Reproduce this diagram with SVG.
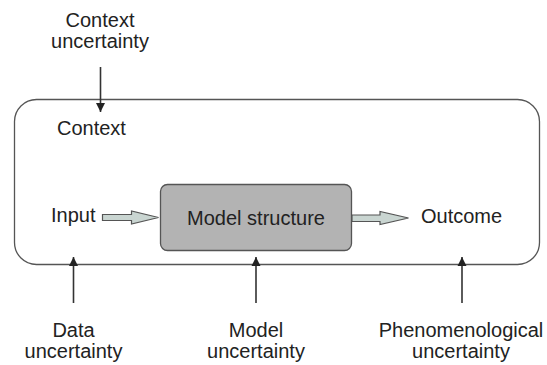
<svg xmlns="http://www.w3.org/2000/svg" width="547" height="365" viewBox="0 0 547 365">
<defs>
<style>
text{font-family:"Liberation Sans",Arial,sans-serif;font-size:20px;fill:#222}
.c{text-anchor:middle}
.ln{stroke:#333;stroke-width:1.6;fill:none}
.blk{fill:#c9d5d1;stroke:#555;stroke-width:1.2}
</style>
<marker id="ah" viewBox="0 0 10 10" refX="10" refY="5" markerWidth="9" markerHeight="10" markerUnits="userSpaceOnUse" orient="auto">
<path d="M0,0 L10,5 L0,10 z" fill="#222"/>
</marker>
</defs>
<rect width="547" height="365" fill="#fff"/>
<g id="context-box">
<rect x="14.5" y="99.5" width="525" height="165" rx="22" ry="22" fill="none" stroke="#555" stroke-width="1.3"/>
<text x="57" y="135">Context</text>
</g>
<g id="context-uncertainty"><text class="c" x="100" y="27">Context</text><text class="c" x="100" y="48">uncertainty</text></g>
<g id="input"><text x="51" y="222">Input</text></g>
<g id="model-structure">
<rect x="160.5" y="184.5" width="191" height="66" rx="7" fill="#b3b3b3" stroke="#555" stroke-width="1.3"/>
<text class="c" x="256" y="225">Model structure</text>
</g>
<g id="outcome"><text x="421" y="223">Outcome</text></g>
<g id="data-uncertainty"><text class="c" x="73.5" y="337">Data</text><text class="c" x="73.5" y="358">uncertainty</text></g>
<g id="model-uncertainty"><text class="c" x="256" y="337">Model</text><text class="c" x="256" y="358">uncertainty</text></g>
<g id="phenomenological-uncertainty"><text class="c" x="461" y="337">Phenomenological</text><text class="c" x="461" y="358">uncertainty</text></g>
<g id="connectors">
<line class="ln" x1="100.5" y1="67" x2="100.5" y2="112" marker-end="url(#ah)"/>
<line class="ln" x1="73.5" y1="303" x2="73.5" y2="257" marker-end="url(#ah)"/>
<line class="ln" x1="256" y1="303" x2="256" y2="257" marker-end="url(#ah)"/>
<line class="ln" x1="462" y1="303" x2="462" y2="257" marker-end="url(#ah)"/>
<path class="blk" d="M102.5,214.5 H131.5 V211 L158.5,217.5 L131.5,224 V220.5 H102.5 z"/>
<path class="blk" d="M352,215 H380 V211.5 L408.5,218 L380,224.5 V221.5 H352 z"/>
</g>
</svg>
